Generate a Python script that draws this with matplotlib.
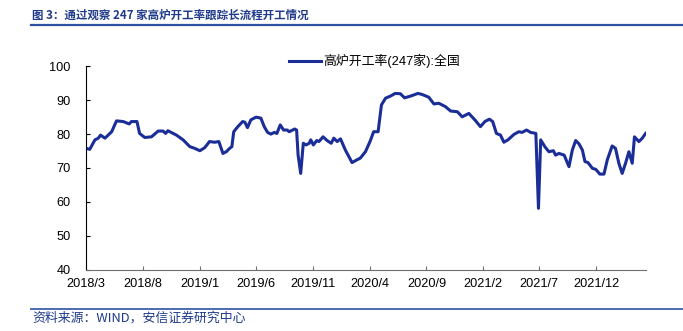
import numpy as np
import pandas as pd
import matplotlib
matplotlib.use('Agg')
import matplotlib.pyplot as plt
from matplotlib.lines import Line2D

plt.rcParams['font.family'] = ['Liberation Sans', 'Noto Sans CJK SC', 'DejaVu Sans']

# 高炉开工率(247家):全国
dates = [
    '2018-03-02', '2018-03-11', '2018-03-25', '2018-04-03', '2018-04-09', '2018-04-21',
    '2018-05-09', '2018-05-22', '2018-06-09', '2018-06-25', '2018-07-01', '2018-07-16',
    '2018-07-23', '2018-08-06', '2018-08-24', '2018-09-11', '2018-09-24', '2018-10-01',
    '2018-10-07', '2018-10-30', '2018-11-17', '2018-12-05', '2018-12-18', '2019-01-01',
    '2019-01-14', '2019-01-27', '2019-02-10', '2019-02-21', '2019-03-04', '2019-03-13',
    '2019-03-22', '2019-03-28', '2019-04-02', '2019-04-13', '2019-04-26', '2019-05-02',
    '2019-05-09', '2019-05-18', '2019-06-01', '2019-06-14', '2019-06-23', '2019-07-02',
    '2019-07-11', '2019-07-20', '2019-07-27', '2019-08-05', '2019-08-14', '2019-08-24',
    '2019-08-29', '2019-09-13', '2019-09-18', '2019-09-22', '2019-09-29', '2019-10-06',
    '2019-10-13', '2019-10-22', '2019-10-26', '2019-11-02', '2019-11-11', '2019-11-17',
    '2019-11-28', '2019-12-09', '2019-12-20', '2019-12-27', '2020-01-05', '2020-01-14',
    '2020-01-27', '2020-02-14', '2020-02-27', '2020-03-07', '2020-03-21', '2020-04-03',
    '2020-04-12', '2020-04-24', '2020-05-03', '2020-05-14', '2020-05-27', '2020-06-09',
    '2020-06-23', '2020-07-04', '2020-07-20', '2020-08-09', '2020-08-20', '2020-09-07',
    '2020-09-21', '2020-10-04', '2020-10-22', '2020-11-05', '2020-11-23', '2020-12-06',
    '2020-12-24', '2021-01-09', '2021-01-24', '2021-02-05', '2021-02-17', '2021-02-26',
    '2021-03-08', '2021-03-19', '2021-03-28', '2021-04-08', '2021-04-24', '2021-05-07',
    '2021-05-16', '2021-05-28', '2021-06-08', '2021-06-22', '2021-06-29', '2021-07-05',
    '2021-07-16', '2021-07-27', '2021-08-08', '2021-08-14', '2021-08-23', '2021-09-06',
    '2021-09-19', '2021-09-28', '2021-10-07', '2021-10-16', '2021-10-25', '2021-11-01',
    '2021-11-09', '2021-11-21', '2021-11-30', '2021-12-11', '2021-12-22', '2021-12-31',
    '2022-01-13', '2022-01-22', '2022-01-31', '2022-02-09', '2022-02-18', '2022-02-27',
    '2022-03-08', '2022-03-14', '2022-03-26', '2022-04-04', '2022-04-13',
]
values = [
    75.8, 75.5, 78.3, 78.8, 79.7, 78.8,
    80.7, 83.9, 83.7, 83.0, 83.7, 83.7,
    80.2, 79.0, 79.2, 80.9, 80.9, 80.2,
    81.0, 79.7, 78.3, 76.3, 75.8, 75.1,
    76.0, 77.8, 77.6, 77.8, 74.3, 74.8,
    75.8, 76.3, 80.7, 82.2, 83.7, 83.5,
    81.9, 84.2, 85.0, 84.7, 82.2, 80.5,
    80.0, 80.5, 80.2, 82.7, 81.2, 81.2,
    80.7, 81.5, 81.2, 73.8, 68.4, 77.3,
    76.8, 77.3, 78.3, 76.8, 78.1, 77.8,
    79.2, 78.1, 77.3, 78.8, 77.8, 78.6,
    75.3, 71.6, 72.4, 72.9, 74.8, 78.0,
    80.7, 80.7, 88.6, 90.6, 91.2, 92.0,
    91.9, 90.7, 91.2, 92.0, 91.7, 90.9,
    88.9, 89.1, 88.1, 86.8, 86.6, 85.1,
    86.1, 84.2, 82.2, 83.7, 84.4, 83.7,
    80.2, 79.7, 77.6, 78.3, 79.9, 80.7,
    80.5, 81.2, 80.5, 80.2, 58.1, 78.3,
    76.3, 74.8, 75.1, 73.8, 74.3, 73.8,
    70.4, 75.3, 78.1, 77.1, 75.3, 71.9,
    71.6, 69.9, 69.6, 68.2, 68.2, 72.4,
    76.5, 75.8, 71.4, 68.4, 71.4, 74.8,
    71.4, 79.2, 77.8, 78.8, 80.2,
]
tick_months = ['2018-03', '2018-08', '2019-01', '2019-06', '2019-11', '2020-04',
               '2020-09', '2021-02', '2021-07', '2021-12']
tick_labels = ['2018/3', '2018/8', '2019/1', '2019/6', '2019/11', '2020/4',
               '2020/9', '2021/2', '2021/7', '2021/12']
series_name = '高炉开工率(247家):全国'
title = '图 3：通过观察 247 家高炉开工率跟踪长流程开工情况'
source = '资料来源：WIND，安信证券研究中心'

x = pd.to_datetime(dates)
line_color = '#1b2d96'
navy = '#1f3a8a'

fig = plt.figure(figsize=(6.83, 3.31), dpi=100)
ax = fig.add_axes([86 / 683, 1 - 269.7 / 331, (646 - 86) / 683, (269.7 - 66.3) / 331])

ax.plot(x, values, color=line_color, lw=2.2, solid_joinstyle='round')

ax.set_ylim(40, 100)
ax.set_yticks(np.arange(40, 101, 10))
ax.set_xlim(pd.Timestamp('2018-03-01'), pd.Timestamp('2022-04-14'))
ax.set_xticks(pd.to_datetime(tick_months))
ax.set_xticklabels(tick_labels)

for side in ['top', 'right']:
    ax.spines[side].set_visible(False)
ax.spines['left'].set_color('black')
ax.spines['bottom'].set_color('#6e6e6e')
ax.tick_params(axis='y', direction='in', length=3, pad=11, labelsize=9.2, color='black')
ax.tick_params(axis='x', direction='in', length=3, pad=6, labelsize=9.2, color='#6e6e6e')

handle = Line2D([], [], color=line_color, lw=2.2)
fig.legend([handle], [series_name], loc='center left', frameon=False,
           bbox_to_anchor=(277 / 683, 1 - 61 / 331),
           handlelength=2.5, handletextpad=0.2,
           prop={'family': ['Liberation Sans', 'Noto Sans CJK SC'], 'size': 9.3})

# header and footer
fig.text(32 / 683, 1 - 15 / 331, title, fontsize=8.3, fontweight='bold', color=navy,
         va='center', ha='left', family=['Noto Sans CJK SC', 'DejaVu Sans'])
fig.add_artist(Line2D([31 / 683, 1], [1 - 25 / 331, 1 - 25 / 331], color='#2f4f9f', lw=1.6))
fig.add_artist(Line2D([31 / 683, 1], [1 - 309 / 331, 1 - 309 / 331], color='#4a6bb0', lw=1.4))
fig.text(32 / 683, 1 - 318.5 / 331, source, fontsize=9.3, style='italic', color=navy,
         va='center', ha='left', family=['Noto Sans CJK SC', 'DejaVu Sans'])

fig.savefig('out.png', dpi=100)
